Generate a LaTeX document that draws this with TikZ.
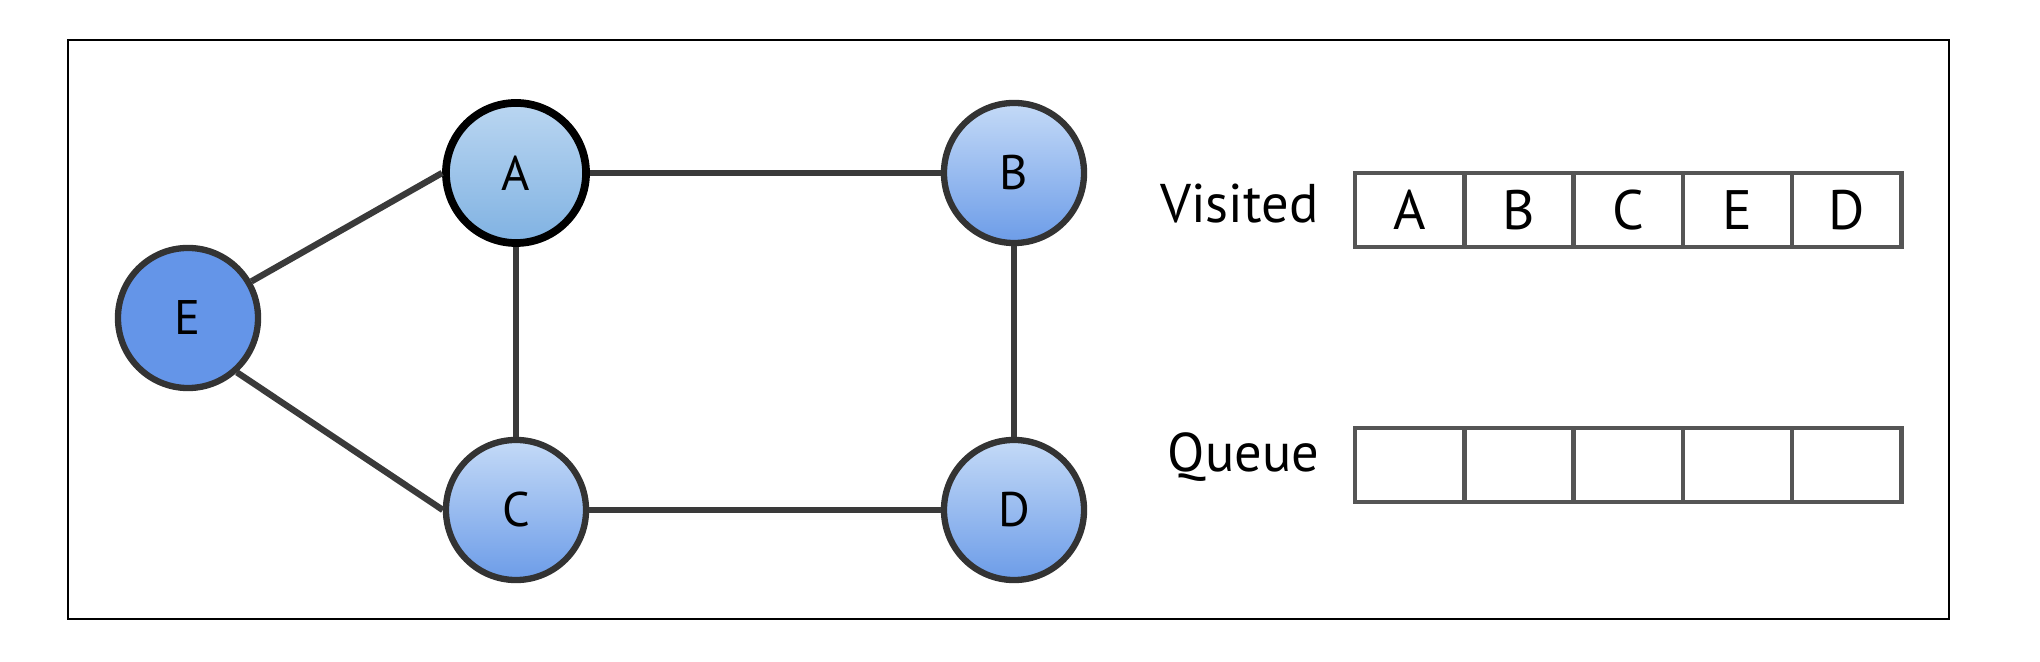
\documentclass[tikz,border=0pt]{standalone}
\usepackage{fontspec}
\setmainfont{PT Sans}
\definecolor{ringgray}{RGB}{51,51,51}
\definecolor{linkgray}{RGB}{58,58,58}
\definecolor{cellgray}{RGB}{85,85,85}
\definecolor{solidblue}{RGB}{100,149,232}
\definecolor{topblue}{RGB}{196,218,247}
\definecolor{botblue}{RGB}{108,156,232}
\definecolor{atop}{RGB}{186,214,241}
\definecolor{abot}{RGB}{128,178,226}
\usetikzlibrary{positioning}

\begin{document}
\begin{tikzpicture}[x=0.01cm,y=-0.01cm,
  vertex/.style={circle,draw=ringgray,line width=1.8pt,minimum size=1.4cm,inner sep=0pt,font=\fontsize{13.8}{15}\selectfont},
  shaded/.style={top color=topblue,bottom color=botblue},
  link/.style={draw=linkgray,line width=1.8pt},
  cell/.style={draw=cellgray,line width=1.3pt,minimum width=1.092cm,minimum height=0.74cm,inner sep=0pt,outer sep=0pt,font=\fontsize{15.8}{17}\selectfont},
  lbl/.style={font=\fontsize{15.5}{17}\selectfont,inner sep=0pt}]
  \useasboundingbox (0,0) rectangle (2040,662);
  \draw[line width=0.75pt] (68,40) rectangle (1949,619);
  \node[vertex,draw=black,line width=2.2pt,top color=atop,bottom color=abot] (A) at (516,173) {A};
  \node[vertex,shaded] (B) at (1014,173) {B};
  \node[vertex,shaded] (C) at (516,510) {C};
  \node[vertex,shaded] (D) at (1014,510) {D};
  \node[vertex,fill=solidblue] (E) at (188,318) {E};
  \draw[link] (E.30) -- (A.west);
  \draw[link] (E.-48) -- (C.west);
  \draw[link] (A) -- (B);
  \draw[link] (A) -- (C);
  \draw[link] (B) -- (D);
  \draw[link] (C) -- (D);
  \node[cell] (v1) at (1409.6,210) {A};
  \node[cell,right=0pt of v1] (v2) {B};
  \node[cell,right=0pt of v2] (v3) {C};
  \node[cell,right=0pt of v3] (v4) {E};
  \node[cell,right=0pt of v4] (v5) {D};
  \node[cell] (q1) at (1409.6,465) {};
  \node[cell,right=0pt of q1] (q2) {};
  \node[cell,right=0pt of q2] (q3) {};
  \node[cell,right=0pt of q3] (q4) {};
  \node[cell,right=0pt of q4] (q5) {};
  \node[lbl,anchor=base east] (visited) at (1319,223) {Visited};
  \node[lbl,anchor=base east] (queue) at (1320,472) {Queue};
\end{tikzpicture}
\end{document}
